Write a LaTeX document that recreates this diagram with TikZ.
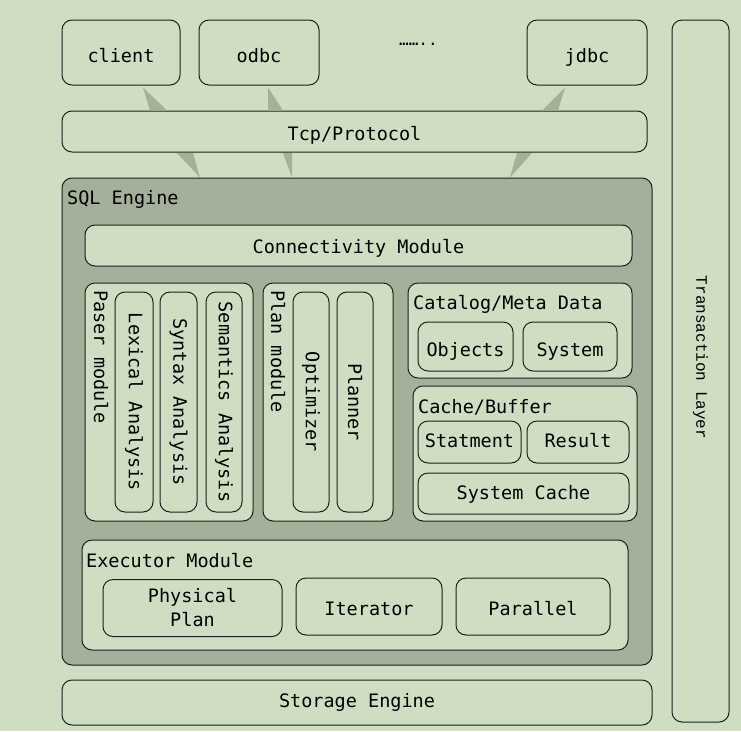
\documentclass[tikz,border=0pt]{standalone}
\usepackage{fontspec}
\setmainfont{DejaVu Sans Mono}
\newfontfamily\courfont{Liberation Mono}
\definecolor{bgc}{RGB}{207,222,195}
\definecolor{darkc}{RGB}{164,176,153}
\definecolor{linec}{RGB}{30,30,30}
\tikzset{
  box/.style={draw=linec, line width=1pt, rounded corners=10pt, fill=bgc, inner sep=0pt, align=center,
    font=\fontsize{18.5}{22}\selectfont, text height=13pt, text depth=4pt},
  darkbox/.style={box, fill=darkc},
  vbox/.style={box},
  lbl/.style={inner sep=0pt, font=\fontsize{18.5}{22}\selectfont},
  wedge/.style={fill=darkc, draw=none}
}
\begin{document}
\begin{tikzpicture}[x=1pt,y=-1pt]
\useasboundingbox[fill=bgc] (0,0) rectangle (741,731);
% top clients
\node[box, minimum width=118, minimum height=65, text height=23pt] (client) at (121,52.5) {client};
\node[box, minimum width=120, minimum height=65, text height=23pt] (odbc) at (259,52.5) {odbc};
\node[box, minimum width=120, minimum height=65, text height=23pt] (jdbc) at (587,52.5) {jdbc};
\node[lbl, anchor=base west, font=\fontsize{16}{18}\selectfont] (dots) at (399,45) {……..};
% transaction layer
\node[box, minimum width=57, minimum height=702] (trans) at (700.5,371) {};
\node[lbl, rotate=-90, font=\fontsize{16}{18}\selectfont\courfont] (translbl) at ([yshift=13.5pt]trans.center) {Transaction Layer};
% tcp
\node[box, minimum width=585, minimum height=41, text height=21pt] (tcp) at (354.5,131.5) {Tcp/Protocol};
% sql engine
\node[darkbox, minimum width=590, minimum height=487] (sql) at (357,421.5) {};
\node[lbl, anchor=base west] (sqllbl) at (67,204) {SQL Engine};
\node[box, minimum width=547, minimum height=41, text height=19pt] (conn) at (358.5,245.5) {Connectivity Module};
% paser module
\node[box, minimum width=168, minimum height=238] (paser) at (169,402) {};
\node[lbl, rotate=-90, anchor=base west] (paserlbl) at (94,290) {Paser module};
\node[vbox, minimum width=38, minimum height=220] (lex) at (134,402) {};
\node[lbl, rotate=-90] at (lex.center) {Lexical Analysis};
\node[vbox, minimum width=37, minimum height=220] (syn) at (178.5,402) {};
\node[lbl, rotate=-90] at (syn.center) {Syntax Analysis};
\node[vbox, minimum width=36, minimum height=220] (sem) at (224,402) {};
\node[lbl, rotate=-90] at (sem.center) {Semantics Analysis};
% plan module
\node[box, minimum width=130, minimum height=238] (plan) at (328,402) {};
\node[lbl, rotate=-90, anchor=base west] (planlbl) at (271,290) {Plan module};
\node[vbox, minimum width=36, minimum height=220] (opt) at (311,402) {};
\node[lbl, rotate=-90] at (opt.center) {Optimizer};
\node[vbox, minimum width=36, minimum height=220] (planner) at (355,402) {};
\node[lbl, rotate=-90] at (planner.center) {Planner};
% catalog
\node[box, minimum width=224, minimum height=95] (cat) at (520,330.5) {};
\node[lbl, anchor=base west] (catlbl) at (413,309) {Catalog/Meta Data};
\node[box, minimum width=95, minimum height=49, text height=23pt] (obj) at (465.5,346.5) {Objects};
\node[box, minimum width=94, minimum height=49, text height=23pt] (sys) at (570,346.5) {System};
% cache
\node[box, minimum width=224, minimum height=135] (cache) at (525,453.5) {};
\node[lbl, anchor=base west] (cachelbl) at (418,413) {Cache/Buffer};
\node[box, minimum width=103, minimum height=42, text height=15pt] (stmt) at (469.5,442) {Statment};
\node[box, minimum width=102, minimum height=42, text height=15pt] (res) at (578,442) {Result};
\node[box, minimum width=211, minimum height=41, text height=15pt] (syscache) at (523.5,493.5) {System Cache};
% executor
\node[box, minimum width=546, minimum height=110] (exec) at (355,595) {};
\node[lbl, anchor=base west] (execlbl) at (86,567) {Executor Module};
\node[box, minimum width=179, minimum height=57, text height={}, text depth={}, font=\fontsize{18.5}{24}\selectfont] (phys) at (192.5,608) {Physical\\Plan};
\node[box, minimum width=146, minimum height=57, text height=21pt] (iter) at (369,606.5) {Iterator};
\node[box, minimum width=154, minimum height=57, text height=21pt] (par) at (533,606.5) {Parallel};
% storage
\node[box, minimum width=590, minimum height=45] (storage) at (357,702.5) {Storage Engine};
% wedges
\fill[wedge] ([xshift=22pt,yshift=-2pt]client.south) -- ([xshift=-204.5pt]tcp.north) -- ([xshift=-187.5pt]tcp.north) -- cycle;
\fill[wedge] ([xshift=9pt,yshift=-2pt]odbc.south) -- ([xshift=-86.5pt]tcp.north) -- ([xshift=-71.5pt]tcp.north) -- cycle;
\fill[wedge] ([xshift=-22pt,yshift=-2pt]jdbc.south) -- ([xshift=187.5pt]tcp.north) -- ([xshift=203.5pt]tcp.north) -- cycle;
\fill[wedge] ([xshift=-177.5pt,yshift=-0.5pt]tcp.south) -- ([xshift=-161.5pt,yshift=-0.5pt]tcp.south) -- ([xshift=-157pt]sql.north) -- cycle;
\fill[wedge] ([xshift=-71.5pt,yshift=-0.5pt]tcp.south) -- ([xshift=-62.5pt,yshift=-0.5pt]tcp.south) -- ([xshift=-65pt]sql.north) -- cycle;
\fill[wedge] ([xshift=162.5pt,yshift=-0.5pt]tcp.south) -- ([xshift=177.5pt,yshift=-0.5pt]tcp.south) -- ([xshift=153pt]sql.north) -- cycle;
\end{tikzpicture}
\end{document}
